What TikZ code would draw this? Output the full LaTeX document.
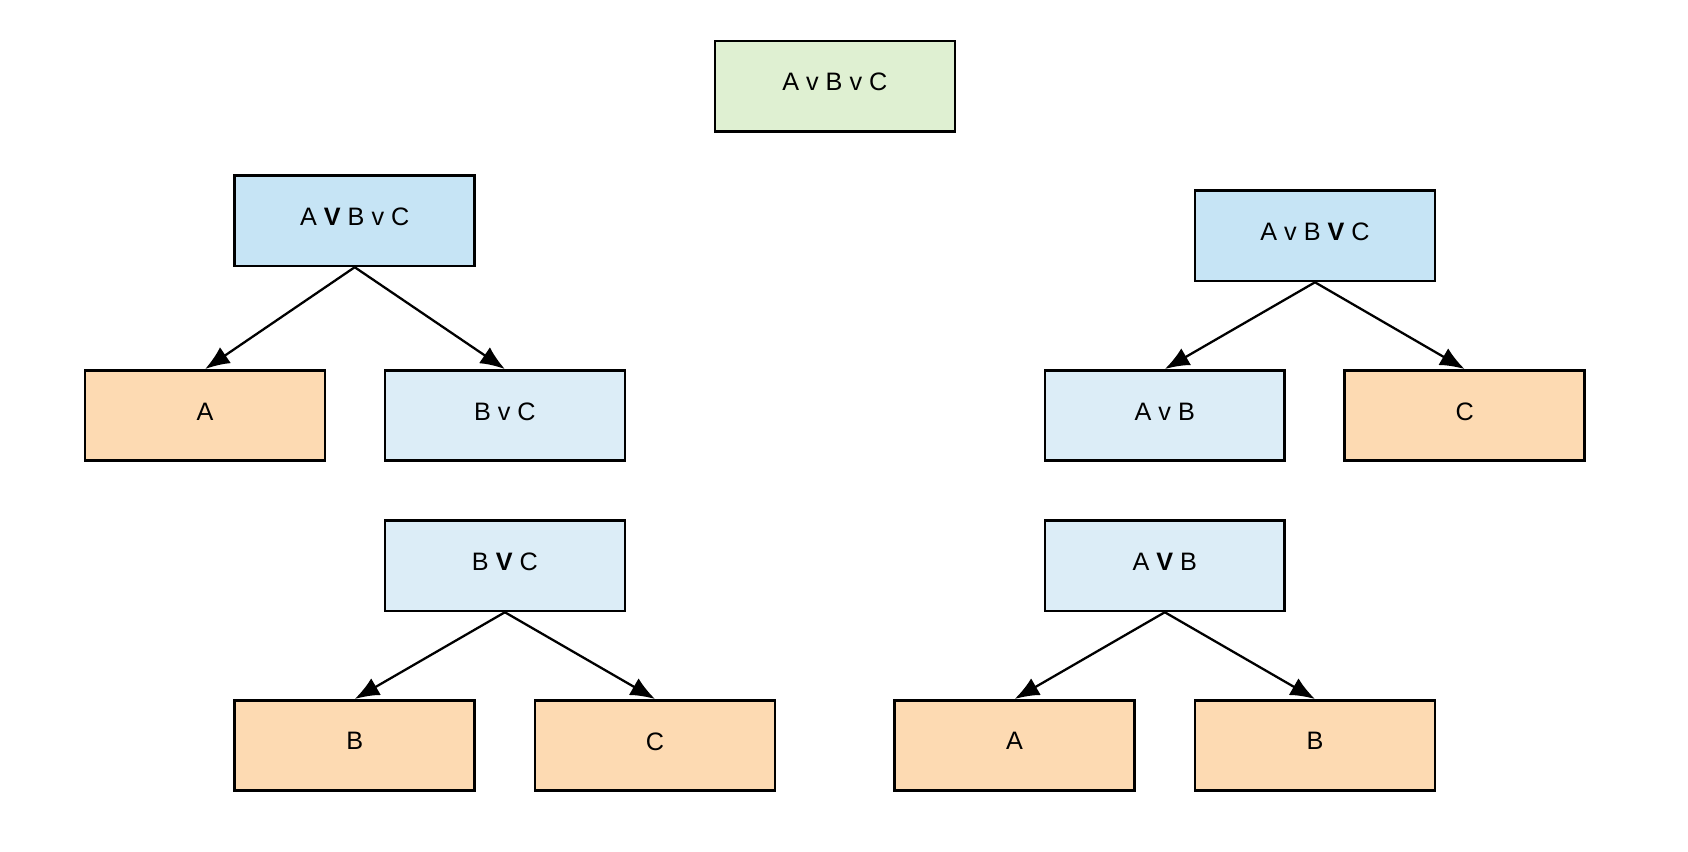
\documentclass[tikz,border=0pt]{standalone}
\usepackage{fontspec}
\setmainfont{Liberation Sans}
\usetikzlibrary{arrows.meta}
\definecolor{rootgreen}{RGB}{223,240,210}
\definecolor{splitblue}{RGB}{198,228,245}
\definecolor{partblue}{RGB}{220,237,247}
\definecolor{atomorange}{RGB}{253,218,178}
\begin{document}
\begin{tikzpicture}[x=0.0108cm, y=0.0108cm]
\tikzstyle{every node}+=[inner sep=0pt, font=\fontsize{7.2}{8}\selectfont]
\tikzstyle{box}=[draw=black, line width=0.75pt, minimum width=2.408cm, minimum height=0.907cm, text depth=2.4pt]
\tikzstyle{link}=[black, line width=0.65pt, -{Latex[length=7pt,width=5.5pt]}]
\useasboundingbox (0,0) rectangle (1568,-791.4);
\node [box, fill=rootgreen] (abc) at (775.5,-80) {A v B v C};
\node [box, fill=splitblue] (l) at (329.5,-205) {A \textbf{V} B v C};
\node [box, fill=atomorange] (la) at (190.5,-386) {A};
\node [box, fill=partblue] (lbc) at (469,-386) {B v C};
\draw [link] (l.south) -- (la.north);
\draw [link] (l.south) -- (lbc.north);
\node [box, fill=splitblue] (r) at (1221.5,-219) {A v B \textbf{V} C};
\node [box, fill=partblue] (rab) at (1082,-386) {A v B};
\node [box, fill=atomorange] (rc) at (1360.5,-386) {C};
\draw [link] (r.south) -- (rab.north);
\draw [link] (r.south) -- (rc.north);
\node [box, fill=partblue] (bc) at (469,-525.5) {B \textbf{V} C};
\node [box, fill=atomorange] (bcb) at (329.5,-692.5) {B};
\node [box, fill=atomorange] (bcc) at (608.5,-692.5) {C};
\draw [link] (bc.south) -- (bcb.north);
\draw [link] (bc.south) -- (bcc.north);
\node [box, fill=partblue] (ab) at (1082,-525.5) {A \textbf{V} B};
\node [box, fill=atomorange] (aba) at (942.5,-692.5) {A};
\node [box, fill=atomorange] (abb) at (1221.5,-692.5) {B};
\draw [link] (ab.south) -- (aba.north);
\draw [link] (ab.south) -- (abb.north);
\end{tikzpicture}
\end{document}
